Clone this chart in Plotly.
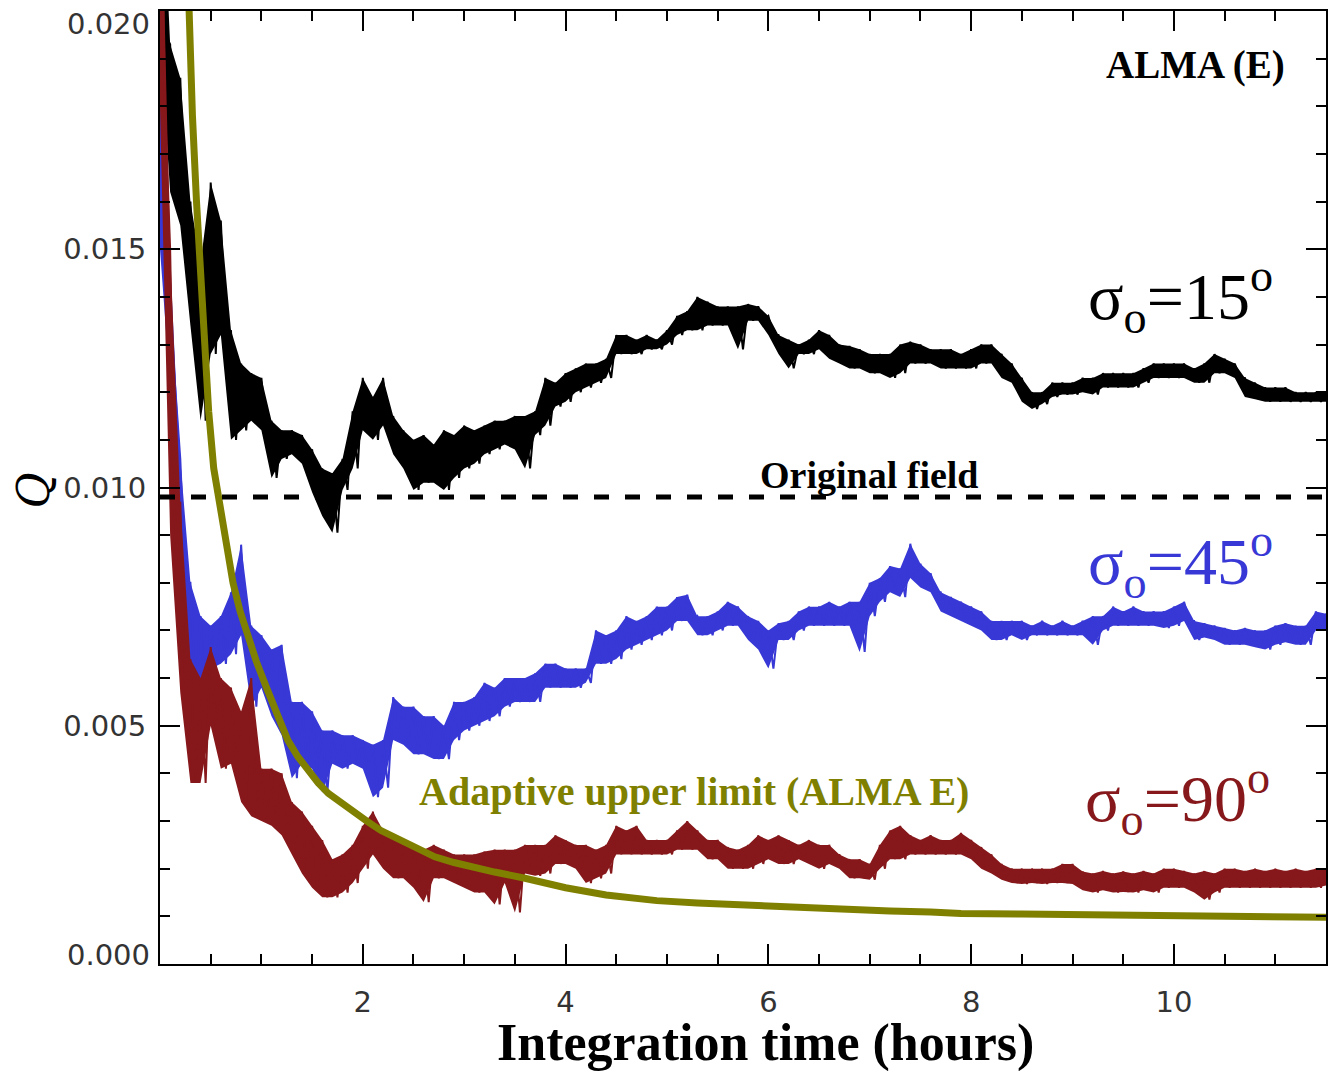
import plotly.graph_objects as go

# ---------------------------------------------------------------------------
# Data: Q versus integration time for three dispersion values.
# Each noisy run is stored as the upper and lower edge of its trace,
# sampled every 0.1 h, in units of 1e-3.
# ---------------------------------------------------------------------------
t_hours = [
    0.0, 0.1, 0.2, 0.3, 0.4, 0.5, 0.6, 0.7, 0.8, 0.9,
    1.0, 1.1, 1.2, 1.3, 1.4, 1.5, 1.6, 1.7, 1.8, 1.9,
    2.0, 2.1, 2.2, 2.3, 2.4, 2.5, 2.6, 2.7, 2.8, 2.9,
    3.0, 3.1, 3.2, 3.3, 3.4, 3.5, 3.6, 3.7, 3.8, 3.9,
    4.0, 4.1, 4.2, 4.3, 4.4, 4.5, 4.6, 4.7, 4.8, 4.9,
    5.0, 5.1, 5.2, 5.3, 5.4, 5.5, 5.6, 5.7, 5.8, 5.9,
    6.0, 6.1, 6.2, 6.3, 6.4, 6.5, 6.6, 6.7, 6.8, 6.9,
    7.0, 7.1, 7.2, 7.3, 7.4, 7.5, 7.6, 7.7, 7.8, 7.9,
    8.0, 8.1, 8.2, 8.3, 8.4, 8.5, 8.6, 8.7, 8.8, 8.9,
    9.0, 9.1, 9.2, 9.3, 9.4, 9.5, 9.6, 9.7, 9.8, 9.9,
    10.0, 10.1, 10.2, 10.3, 10.4, 10.5, 10.6, 10.7, 10.8, 10.9,
    11.0, 11.1, 11.2, 11.3, 11.4, 11.5,
]

# sigma_o = 15 deg
s15_hi = [
    24, 19.3, 18.6, 16.0, 14.7, 16.4, 15.6, 13.3, 12.6, 12.4,
    12.3, 11.4, 11.2, 11.2, 11.1, 10.8, 10.4, 10.3, 10.6, 11.6,
    12.3, 11.9, 12.3, 11.5, 11.2, 11.0, 11.1, 10.9, 11.2, 11.1,
    11.3, 11.2, 11.3, 11.4, 11.4, 11.5, 11.5, 11.6, 12.3, 12.2,
    12.4, 12.5, 12.6, 12.6, 12.7, 13.2, 13.2, 13.1, 13.2, 13.1,
    13.3, 13.6, 13.7, 14.0, 13.9, 13.8, 13.8, 13.8, 13.85, 13.8,
    13.6, 13.2, 13.1, 13.0, 13.1, 13.3, 13.2, 13.0, 12.97, 12.9,
    12.8, 12.8, 12.8, 13.0, 13.06, 13.0, 12.9, 12.9, 12.9, 12.8,
    12.9, 13.0, 13.0, 12.8, 12.6, 12.3, 12.0, 12.0, 12.2, 12.2,
    12.2, 12.3, 12.3, 12.4, 12.4, 12.4, 12.4, 12.5, 12.6, 12.6,
    12.6, 12.6, 12.5, 12.6, 12.8, 12.7, 12.6, 12.3, 12.2, 12.1,
    12.1, 12.1, 12.0, 12.0, 12.0, 12.0,
]
s15_lo = [
    19.5, 16.2, 15.5, 13.4, 11.4, 12.8, 13.2, 11.0, 11.2, 11.4,
    11.2, 10.2, 10.6, 10.7, 10.5, 9.9, 9.4, 9.05, 9.95, 10.4,
    11.2, 11.0, 11.3, 10.7, 10.4, 9.95, 10.1, 10.1, 9.95, 10.2,
    10.4, 10.5, 10.7, 10.8, 10.9, 10.8, 10.4, 11.1, 11.3, 11.7,
    11.8, 12.0, 12.1, 12.2, 12.3, 12.8, 12.8, 12.8, 12.9, 12.9,
    13.0, 13.2, 13.3, 13.3, 13.4, 13.4, 13.4, 12.9, 13.5, 13.5,
    13.2, 12.8, 12.5, 12.8, 12.8, 12.9, 12.7, 12.6, 12.5, 12.5,
    12.4, 12.4, 12.3, 12.4, 12.6, 12.6, 12.6, 12.5, 12.5, 12.5,
    12.5, 12.6, 12.6, 12.3, 12.2, 11.8, 11.65, 11.75, 11.9, 11.95,
    11.95, 12.0, 11.95, 12.1, 12.1, 12.1, 12.1, 12.2, 12.3, 12.3,
    12.3, 12.3, 12.2, 12.2, 12.4, 12.4, 12.3, 11.9, 11.85, 11.8,
    11.8, 11.8, 11.8, 11.8, 11.8, 11.8,
]

# sigma_o = 45 deg
s45_hi = [
    22, 14.3, 10.6, 8.0, 7.3, 7.1, 7.3, 7.8, 8.8, 7.1,
    6.9, 6.6, 6.7, 5.5, 5.5, 5.3, 4.9, 4.9, 4.8, 4.8,
    4.7, 4.6, 4.7, 5.6, 5.4, 5.4, 5.2, 5.2, 5.0, 5.5,
    5.5, 5.6, 5.9, 5.8, 6.0, 6.0, 6.0, 6.1, 6.3, 6.3,
    6.2, 6.2, 6.2, 7.0, 6.9, 7.0, 7.3, 7.2, 7.3, 7.5,
    7.5, 7.7, 7.75, 7.3, 7.3, 7.4, 7.6, 7.5, 7.3, 7.2,
    7.0, 7.15, 7.2, 7.4, 7.5, 7.5, 7.6, 7.5, 7.6, 7.6,
    8.0, 8.1, 8.35, 8.3, 8.82, 8.4, 8.2, 7.8, 7.7, 7.6,
    7.5, 7.4, 7.2, 7.2, 7.2, 7.2, 7.1, 7.2, 7.1, 7.2,
    7.1, 7.2, 7.3, 7.3, 7.5, 7.4, 7.5, 7.4, 7.4, 7.4,
    7.5, 7.6, 7.2, 7.15, 7.1, 7.05, 7.0, 7.05, 7.0, 7.0,
    7.1, 7.15, 7.1, 7.1, 7.4, 7.35,
]
s45_lo = [
    15, 12.1, 8.0, 5.7, 5.5, 6.2, 6.3, 6.5, 6.9, 5.4,
    5.8, 5.2, 4.8, 3.9, 4.2, 4.1, 3.6, 4.2, 4.1, 4.2,
    4.1, 3.5, 3.7, 4.7, 4.6, 4.4, 4.4, 4.3, 4.3, 4.7,
    4.9, 5.0, 5.1, 5.2, 5.4, 5.5, 5.5, 5.5, 5.8, 5.8,
    5.8, 5.8, 5.9, 6.3, 6.3, 6.4, 6.6, 6.7, 6.8, 6.9,
    7.0, 7.2, 7.2, 6.9, 6.9, 7.0, 7.1, 7.1, 6.8, 6.6,
    6.2, 6.8, 6.8, 7.0, 7.1, 7.1, 7.1, 7.1, 7.1, 6.55,
    7.3, 7.6, 7.8, 7.7, 8.1, 7.9, 7.8, 7.4, 7.3, 7.2,
    7.1, 7.0, 6.8, 6.8, 6.9, 6.8, 6.9, 6.9, 6.9, 6.9,
    6.9, 6.9, 6.7, 7.0, 7.1, 7.1, 7.1, 7.1, 7.1, 7.05,
    7.1, 7.2, 6.8, 6.85, 6.8, 6.7, 6.7, 6.7, 6.65, 6.6,
    6.7, 6.75, 6.7, 6.7, 7.0, 7.0,
]

# sigma_o = 90 deg
s90_hi = [
    24, 15.0, 9.7, 6.4, 6.0, 6.65, 6.0, 5.8, 5.3, 6.0,
    4.1, 4.1, 4.0, 3.4, 3.2, 2.9, 2.6, 2.2, 2.3, 2.5,
    2.9, 3.2, 2.8, 2.7, 2.5, 2.5, 2.4, 2.5, 2.4, 2.3,
    2.3, 2.3, 2.36, 2.4, 2.4, 2.4, 2.5, 2.5, 2.5, 2.7,
    2.6, 2.5, 2.5, 2.4, 2.5, 2.9, 2.8, 2.9, 2.6, 2.6,
    2.6, 2.8, 3.0, 2.8, 2.6, 2.6, 2.45, 2.4, 2.5, 2.7,
    2.6, 2.7, 2.6, 2.5, 2.6, 2.5, 2.5, 2.3, 2.2, 2.2,
    2.1, 2.5, 2.8, 2.9, 2.7, 2.6, 2.7, 2.6, 2.6, 2.75,
    2.6, 2.45, 2.3, 2.1, 2.0, 2.0, 2.0, 2.0, 2.0, 2.1,
    2.1, 1.94, 1.9, 1.95, 1.9, 1.94, 1.9, 1.95, 1.9, 2.0,
    2.0, 1.95, 1.9, 1.95, 1.9, 2.0, 2.0, 1.95, 2.0, 1.95,
    2.0, 1.95, 2.0, 1.95, 2.0, 2.0,
]
s90_lo = [
    18, 9.0, 5.7, 3.8, 3.8, 5.0, 4.1, 4.2, 3.4, 3.1,
    3.0, 2.9, 2.7, 2.3, 1.9, 1.6, 1.4, 1.4, 1.5, 1.7,
    2.0, 2.3, 2.0, 1.8, 1.8, 1.6, 1.3, 1.8, 1.8, 1.7,
    1.6, 1.5, 1.5, 1.25, 1.7, 1.08, 1.9, 1.85, 1.9, 2.1,
    2.1, 2.0, 1.7, 1.8, 1.9, 2.3, 2.3, 2.3, 2.3, 2.3,
    2.3, 2.4, 2.4, 2.4, 2.2, 2.2, 2.0, 2.0, 2.0, 2.1,
    2.2, 2.1, 2.1, 2.2, 2.1, 2.0, 2.1, 2.0, 1.8, 1.8,
    1.77, 2.0, 2.2, 2.2, 2.3, 2.3, 2.3, 2.3, 2.3, 2.3,
    2.2, 2.0, 1.9, 1.77, 1.7, 1.68, 1.7, 1.68, 1.7, 1.7,
    1.68, 1.55, 1.5, 1.55, 1.5, 1.51, 1.5, 1.55, 1.5, 1.6,
    1.6, 1.6, 1.5, 1.35, 1.5, 1.6, 1.6, 1.6, 1.6, 1.6,
    1.6, 1.6, 1.6, 1.6, 1.6, 1.65,
]

# Adaptive upper limit (ALMA E), units of 1e-3
limit_t = [0.25, 0.28, 0.32, 0.36, 0.40, 0.44, 0.48, 0.53, 0.59, 0.66,
           0.72, 0.79, 0.86, 0.95, 1.05, 1.15, 1.26, 1.36, 1.46, 1.56,
           1.66, 1.80, 1.92, 2.04, 2.18, 2.36, 2.55, 2.71, 2.90, 3.07,
           3.30, 3.60, 4.00, 4.40, 4.90, 5.30, 5.80, 6.30, 6.70, 7.20,
           7.60, 7.90, 8.50, 9.00, 9.50, 9.90, 10.50, 11.00, 11.50]
limit_q = [22.5, 20.0, 17.8, 16.0, 14.4, 12.9, 11.6, 10.4, 9.6, 8.7,
           8.0, 7.4, 6.9, 6.35, 5.8, 5.25, 4.7, 4.35, 4.07, 3.8,
           3.58, 3.35, 3.16, 3.0, 2.8, 2.6, 2.42, 2.25, 2.13, 2.03,
           1.93, 1.8, 1.6, 1.45, 1.33, 1.28, 1.23, 1.18, 1.13, 1.11,
           1.09, 1.06, 1.05, 1.04, 1.03, 1.01, 0.99, 0.98, 0.98]

original_field_q = 0.0098
x_range = [0.0, 11.5]
y_range = [0.0, 0.020]
y_ticks = [0.000, 0.005, 0.010, 0.015, 0.020]
y_ticktext = ["0.000", "0.005", "0.010", "0.015", "0.020"]
x_ticks = [2, 4, 6, 8, 10]
x_ticktext = ["2", "4", "6", "8", "10"]

BLACK = "#000000"
BLUE = "#3838d6"
RED = "#86181b"
OLIVE = "#808000"
SERIF = "Liberation Serif, Times New Roman, serif"
TICK_FONT = dict(family="DejaVu Sans", size=29, color="#333333")


def add_noisy_run(fig, hi, lo, color):
    """Band between the upper and lower edge drawn as a dense zigzag of the two edges."""
    xs, ys = [], []
    for t, h, l in zip(t_hours, hi, lo):
        xs += [t, t + 0.05]
        ys += [h * 1e-3, l * 1e-3]
    band_x = t_hours + t_hours[::-1]
    band_y = [v * 1e-3 for v in hi] + [v * 1e-3 for v in lo[::-1]]
    fig.add_trace(go.Scatter(x=band_x, y=band_y, mode="none", fill="toself",
                             fillcolor=color, hoverinfo="skip"))
    fig.add_trace(go.Scatter(x=xs, y=ys, mode="lines",
                             line=dict(color=color, width=2), hoverinfo="skip"))


fig = go.Figure()

add_noisy_run(fig, s15_hi, s15_lo, BLACK)
add_noisy_run(fig, s45_hi, s45_lo, BLUE)
add_noisy_run(fig, s90_hi, s90_lo, RED)

# adaptive upper limit, on top of the noisy runs
fig.add_trace(go.Scatter(x=limit_t, y=[q * 1e-3 for q in limit_q], mode="lines",
                         line=dict(color=OLIVE, width=7), hoverinfo="skip"))

fig.add_trace(go.Scatter(x=x_range, y=[original_field_q, original_field_q], mode="lines",
                         line=dict(color=BLACK, width=5, dash="15px,16px"), hoverinfo="skip"))

axis_common = dict(
    showline=True, linecolor="black", linewidth=2, mirror="ticks",
    ticks="inside", ticklen=20, tickwidth=2, tickcolor="black",
    showgrid=False, zeroline=False, tickfont=TICK_FONT,
)

# the end labels of the Q axis sit just inside the frame, so they are drawn separately
y_ticktext_axis = ["", "0.005", "0.010", "0.015", ""]

fig.update_xaxes(range=x_range, tickmode="array", tickvals=x_ticks, ticktext=x_ticktext,
                 ticklabelstandoff=11,
                 minor=dict(ticks="inside", ticklen=10, tickwidth=2, tickcolor="black",
                            dtick=0.5, tick0=0, showgrid=False),
                 **axis_common)
fig.update_yaxes(range=y_range, tickmode="array", tickvals=y_ticks, ticktext=y_ticktext_axis,
                 ticklabelstandoff=6,
                 minor=dict(ticks="inside", ticklen=10, tickwidth=2, tickcolor="black",
                            dtick=0.001, tick0=0, showgrid=False),
                 **axis_common)

for val, txt, shift in [(y_ticks[0], y_ticktext[0], 9), (y_ticks[-1], y_ticktext[-1], -13)]:
    fig.add_annotation(text=txt, xref="paper", yref="y", x=0, y=val, xanchor="right",
                       yanchor="middle", xshift=-8, yshift=shift, showarrow=False,
                       font=TICK_FONT)

annotations = [
    dict(text="<b>ALMA (E)</b>", x=10.21, y=0.01887, font=dict(family=SERIF, size=39, color=BLACK)),
    dict(text="<b>Original field</b>", x=7.0, y=0.01027, font=dict(family=SERIF, size=38, color=BLACK)),
    dict(text="<b>Adaptive upper limit (ALMA E)</b>", x=5.27, y=0.00363,
         font=dict(family=SERIF, size=40, color=OLIVE)),
    dict(text="σ<sub>o</sub>=15<sup>o</sup>", x=10.06, y=0.0140, font=dict(family=SERIF, size=66, color=BLACK)),
    dict(text="σ<sub>o</sub>=45<sup>o</sup>", x=10.06, y=0.00845, font=dict(family=SERIF, size=66, color=BLUE)),
    dict(text="σ<sub>o</sub>=90<sup>o</sup>", x=10.04, y=0.00348, font=dict(family=SERIF, size=66, color=RED)),
]
for a in annotations:
    fig.add_annotation(xref="x", yref="y", showarrow=False, xanchor="center", yanchor="middle", **a)

# axis titles
fig.add_annotation(text="<b>Integration time (hours)</b>", xref="paper", yref="paper",
                   x=0.5197, y=-0.083, showarrow=False, xanchor="center", yanchor="middle",
                   font=dict(family=SERIF, size=52, color=BLACK))
fig.add_annotation(text="<i>Q</i>", xref="paper", yref="paper", x=-0.1087, y=0.497,
                   showarrow=False, xanchor="center", yanchor="middle", textangle=-90,
                   font=dict(family="DejaVu Serif", size=44, color=BLACK))

fig.update_layout(
    width=1330, height=1071,
    margin=dict(l=160, r=2, t=11, b=107),
    paper_bgcolor="white", plot_bgcolor="white",
    showlegend=False,
)

fig.write_html("out.html")
